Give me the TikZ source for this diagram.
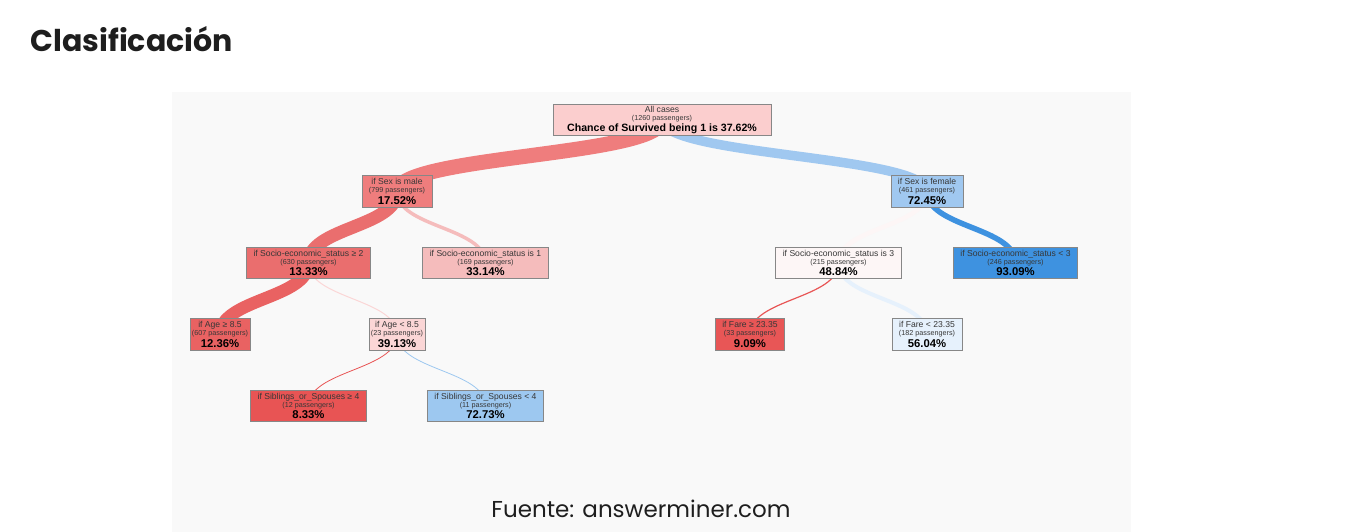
\documentclass[tikz,border=0pt]{standalone}
\usepackage{fontspec}
\setmainfont{Liberation Sans}
\newfontfamily\titlefont{Poppins}
\usepackage{tikz}

\definecolor{panel}{RGB}{249,249,249}
\definecolor{boxline}{RGB}{135,135,135}
\definecolor{txt}{RGB}{55,55,55}
\definecolor{ink}{RGB}{30,30,30}
\definecolor{cRoot}{RGB}{251,206,206}
\definecolor{cMale}{RGB}{239,125,125}
\definecolor{cFemale}{RGB}{160,200,240}
\definecolor{cSesA}{RGB}{234,110,110}
\definecolor{cSesB}{RGB}{245,188,188}
\definecolor{cSesC}{RGB}{253,246,246}
\definecolor{cSesD}{RGB}{62,146,224}
\definecolor{cAgeA}{RGB}{233,98,98}
\definecolor{cAgeB}{RGB}{251,214,214}
\definecolor{cFareA}{RGB}{232,86,86}
\definecolor{cFareB}{RGB}{230,241,252}
\definecolor{cSibA}{RGB}{232,84,84}
\definecolor{cSibB}{RGB}{157,200,240}

\newcommand{\info}[3]{{\fontsize{8.6}{9}\selectfont #1}\\[-1pt]{\fontsize{7.2}{8}\selectfont (#2 passengers)}\\[1pt]{\color{black}\bfseries\fontsize{11.3}{11}\selectfont #3}}

\pgfdeclarelayer{links}
\pgfsetlayers{links,main}

\begin{document}
\begin{tikzpicture}[x=1pt,y=1pt,level distance=71.5pt]
\tikzstyle{box}=[draw=boxline, fill=#1, line width=0.7pt, inner xsep=7pt, inner ysep=0pt,
  minimum height=31.5pt, align=center, text=txt, font=\fontsize{8.6}{9}\selectfont]
\tikzstyle{edge from parent}=[draw=none]
\tikzstyle{level 1}=[sibling distance=530pt]
\tikzstyle{level 2}=[sibling distance=177pt]
\tikzstyle{level 3}=[sibling distance=177pt]
\tikzstyle{level 4}=[sibling distance=177pt]
\useasboundingbox (0,0) rectangle (1365,-532);
\begin{pgfonlayer}{links}
\fill[white] (0,0) rectangle (1365,-532);
\fill[panel] (172,-92) rectangle (1131,-532);
\end{pgfonlayer}

\node[anchor=base west, text=ink, font=\titlefont\bfseries\fontsize{30}{34}\selectfont] (title) at (27,-52) {Clasificación};

\node[box=cRoot, minimum width=218pt] (root) at (662,-120) {All cases\\[-1pt]{\fontsize{7.2}{8}\selectfont (1260 passengers)}\\[1pt]{\color{black}\bfseries\fontsize{10.6}{11}\selectfont Chance of Survived being 1 is 37.62\%}}
child {node[box=cMale] (male) {\info{if Sex is male}{799}{17.52\%}}
	child {node[box=cSesA] (sesA) {\info{if Socio-economic\_status ≥ 2}{630}{13.33\%}}
		child {node[box=cAgeA, inner xsep=2pt] (ageA) {\info{if Age ≥ 8.5}{607}{12.36\%}}}
		child {node[box=cAgeB, inner xsep=2pt] (ageB) {\info{if Age < 8.5}{23}{39.13\%}}
			child {node[box=cSibA] (sibA) {\info{if Siblings\_or\_Spouses ≥ 4}{12}{8.33\%}}}
			child {node[box=cSibB] (sibB) {\info{if Siblings\_or\_Spouses < 4}{11}{72.73\%}}}
		}
	}
	child {node[box=cSesB] (sesB) {\info{if Socio-economic\_status is 1}{169}{33.14\%}}}
}
child {node[box=cFemale] (female) {\info{if Sex is female}{461}{72.45\%}}
	child {node[box=cSesC] (sesC) {\info{if Socio-economic\_status is 3}{215}{48.84\%}}
		child {node[box=cFareA] (fareA) {\info{if Fare ≥ 23.35}{33}{9.09\%}}}
		child {node[box=cFareB] (fareB) {\info{if Fare < 23.35}{182}{56.04\%}}}
	}
	child {node[box=cSesD] (sesD) {\info{if Socio-economic\_status < 3}{246}{93.09\%}}}
};

% links, width by passengers
\begin{pgfonlayer}{links}
\foreach \a/\b/\w/\c in {root/male/15/cMale, root/female/9.5/cFemale,
	male/sesA/13/cSesA, male/sesB/3.5/cSesB, sesA/ageA/12.5/cAgeA, sesA/ageB/1/cAgeB,
	ageB/sibA/0.8/cSibA, ageB/sibB/0.8/cSibB, female/sesC/4.5/cSesC, female/sesD/5.5/cSesD,
	sesC/fareA/1.2/cFareA, sesC/fareB/4/cFareB}
	\draw[line width=\w pt, draw=\c] (\a.center) .. controls +(0,-36) and +(0,36) .. (\b.center);
\end{pgfonlayer}

\node[anchor=base, text=ink, font=\titlefont\fontsize{23}{27}\selectfont] (src) at (641,-517) {Fuente: answerminer.com};
\end{tikzpicture}
\end{document}
